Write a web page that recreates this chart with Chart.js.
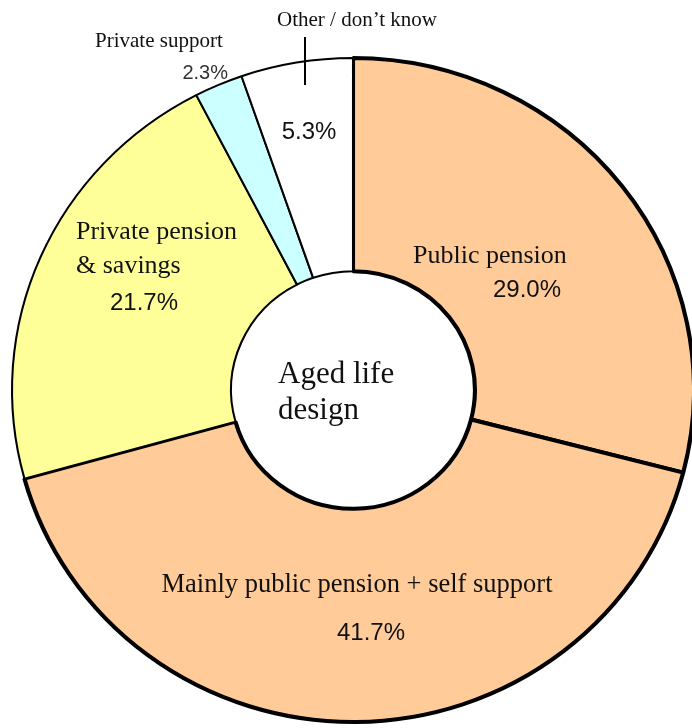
<!DOCTYPE html>
<html>
<head>
<meta charset="utf-8">
<script src="https://cdn.jsdelivr.net/npm/chart.js@4/dist/chart.umd.min.js"></script>
<style>
  html, body { margin: 0; padding: 0; background: #fff; }
  #wrap { width: 692px; height: 728px; position: relative; }
</style>
</head>
<body>
<div id="wrap"><canvas id="grafico"></canvas></div>
<script>
// datos del gráfico
const categorias = ['Public pension', 'Mainly public pension + self support', 'Private pension & savings', 'Private support', 'Other / don\u2019t know'];
const valores = [29.0, 41.7, 21.7, 2.3, 5.3];
const colores = ['#FFCC99', '#FFCC99', '#FFFF99', '#CCFFFF', '#FFFFFF'];
const bordes = [4, 4, 2, 2, 2];
const tituloCentro = ['Aged life', 'design'];

const serif = '"Liberation Serif", "DejaVu Serif", serif';
const sans = '"Liberation Sans", "DejaVu Sans", sans-serif';

// el original es un poco más ancho que alto
const estiramiento = 1.027;

const etiquetasPlugin = {
    id: 'etiquetas',
    beforeDatasetsDraw(chart) {
        const ctx = chart.ctx;
        const a = chart.chartArea;
        const cx = (a.left + a.right) / 2;
        ctx.save();
        ctx.translate(cx, 0);
        ctx.scale(estiramiento, 1);
        ctx.translate(-cx, 0);
    },
    afterDatasetsDraw(chart) {
        const ctx = chart.ctx;
        ctx.restore();
        ctx.save();
        ctx.fillStyle = '#111';
        ctx.textBaseline = 'alphabetic';

        function texto(t, x, y, font, align) {
            ctx.font = font;
            ctx.textAlign = align || 'left';
            ctx.fillText(t, x, y);
        }

        let pct = v => v.toFixed(1) + '%';

        // Public pension
        texto(categorias[0], 413, 263, '26px ' + serif);
        texto(pct(valores[0]), 493, 297, '24px ' + sans);

        // Mainly public pension + self support
        texto(categorias[1], 357, 592, '26.5px ' + serif, 'center');
        texto(pct(valores[1]), 371, 640, '24px ' + sans, 'center');

        // Private pension & savings
        texto('Private pension', 76, 239, '26px ' + serif);
        texto('& savings', 76, 273, '26px ' + serif);
        texto(pct(valores[2]), 110, 310, '24px ' + sans);

        // Private support
        texto(categorias[3], 95, 47, '21px ' + serif);
        ctx.fillStyle = '#333';
        texto(pct(valores[3]), 228, 79, '20px ' + sans, 'right');
        ctx.fillStyle = '#111';

        // Other / don't know
        texto(categorias[4], 357, 26, '21px ' + serif, 'center');
        texto(pct(valores[4]), 309, 139, '24px ' + sans, 'center');
        ctx.strokeStyle = '#000';
        ctx.lineWidth = 2;
        ctx.beginPath();
        ctx.moveTo(305, 37);
        ctx.lineTo(305, 85);
        ctx.stroke();

        // centro
        texto(tituloCentro[0], 278, 383, '31px ' + serif);
        texto(tituloCentro[1], 278, 419, '31px ' + serif);

        ctx.restore();
    }
};

let ctx = document.getElementById('grafico').getContext('2d');
new Chart(ctx, {
    type: 'doughnut',
    data: {
        labels: categorias,
        datasets: [{
            data: valores,
            backgroundColor: colores,
            borderColor: '#000',
            borderWidth: bordes
        }]
    },
    options: {
        responsive: true,
        maintainAspectRatio: false,
        animation: false,
        radius: 332,
        cutout: 118,
        layout: { padding: { left: 21, right: 7, top: 58, bottom: 6 } },
        plugins: {
            legend: { display: false },
            tooltip: { enabled: false }
        }
    },
    plugins: [etiquetasPlugin]
});
</script>
</body>
</html>
